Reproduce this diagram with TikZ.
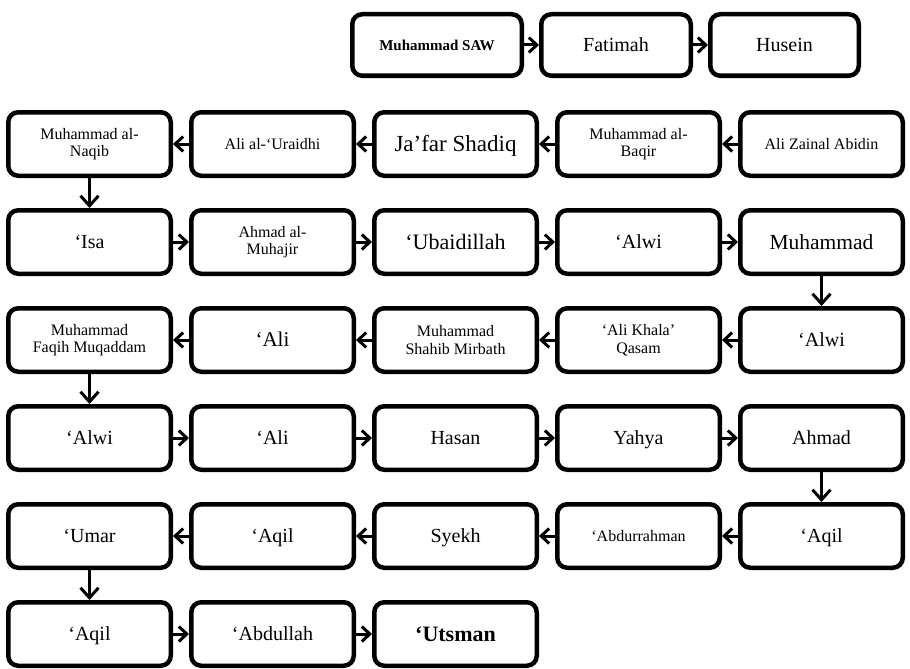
\documentclass[tikz,border=0pt]{standalone}
\usepackage{fontspec}
\setmainfont{Liberation Serif}
\usepackage{tikz}
\usetikzlibrary{arrows.meta, positioning}

\begin{document}
\begin{tikzpicture}[
    node distance=30pt and 16pt,
    person/.style={rectangle, draw, line width=4.5pt, rounded corners=10pt, minimum width=162.5pt, minimum height=63.5pt, align=center, fill=white, text height=15pt, text depth=1.8pt, font=\fontsize{20}{22}\selectfont},
    small/.style={font=\fontsize{16}{17.5}\selectfont, text height=12pt, text depth=1.4pt},
    twolines/.style={font=\fontsize{16}{17.5}\selectfont, text height=, text depth=},
    link/.style={-{Straight Barb[length=8pt,width=15pt]}, line width=3pt},
    down/.style={-{Straight Barb[length=10pt,width=18pt]}, line width=3pt}
]
\useasboundingbox (0pt,0pt) rectangle (910pt,-669pt);

% top line
\node[person, small, minimum width=169.5pt, minimum height=61.5pt, font=\fontsize{15}{17}\selectfont\bfseries] (saw) at (437pt,-45pt) {Muhammad SAW};
\node[person, minimum width=149.5pt, minimum height=61.5pt] (fatimah) at (616pt,-45pt) {Fatimah};
\node[person, minimum width=148.5pt, minimum height=61.5pt] (husein) at (784.5pt,-45pt) {Husein};

% second line, right to left
\node[person, small] (zain) at (821.5pt,-144pt) {Ali Zainal Abidin};
\node[person, twolines, left=of zain] (baqir) {Muhammad al-\\Baqir};
\node[person, left=of baqir, font=\fontsize{23}{25}\selectfont, text height=17pt] (jafar) {Ja'far Shadiq};
\node[person, small, left=of jafar] (uraidhi) {Ali al-`Uraidhi};
\node[person, twolines, left=of uraidhi] (naqib) {Muhammad al-\\Naqib};

% third line, left to right
\node[person, below=of naqib] (isa) {`Isa};
\node[person, twolines, right=of isa] (muhajir) {Ahmad al-\\Muhajir};
\node[person, right=of muhajir, font=\fontsize{22}{24}\selectfont, text height=16pt] (ubaid) {`Ubaidillah};
\node[person, right=of ubaid] (alwiA) {`Alwi};
\node[person, right=of alwiA, font=\fontsize{21.5}{24}\selectfont, text height=16pt] (muhA) {Muhammad};

% fourth line, right to left
\node[person, below=of muhA] (alwiB) {`Alwi};
\node[person, twolines, left=of alwiB] (khala) {`Ali Khala'\\Qasam};
\node[person, twolines, left=of khala] (mirbath) {Muhammad\\Shahib Mirbath};
\node[person, left=of mirbath, font=\fontsize{21}{23}\selectfont] (aliA) {`Ali};
\node[person, twolines, left=of aliA] (faqih) {Muhammad\\Faqih Muqaddam};

% fifth line, left to right
\node[person, below=of faqih] (alwiC) {`Alwi};
\node[person, right=of alwiC] (aliB) {`Ali};
\node[person, right=of aliB] (hasan) {Hasan};
\node[person, right=of hasan] (yahya) {Yahya};
\node[person, right=of yahya] (ahmad) {Ahmad};

% sixth line, right to left
\node[person, below=of ahmad] (aqilA) {`Aqil};
\node[person, small, left=of aqilA] (abdurrahman) {`Abdurrahman};
\node[person, left=of abdurrahman] (syekh) {Syekh};
\node[person, left=of syekh] (aqilB) {`Aqil};
\node[person, left=of aqilB] (umar) {`Umar};

% last line
\node[person, below=of umar] (aqilC) {`Aqil};
\node[person, right=of aqilC] (abdullah) {`Abdullah};
\node[person, right=of abdullah, font=\fontsize{22}{24}\selectfont\bfseries, text height=16pt] (utsman) {`Utsman};

\draw[link] (saw) -- (fatimah);
\draw[link] (fatimah) -- (husein);

\draw[link] (zain) -- (baqir);
\draw[link] (baqir) -- (jafar);
\draw[link] (jafar) -- (uraidhi);
\draw[link] (uraidhi) -- (naqib);
\draw[down] (naqib) -- (isa);

\draw[link] (isa) -- (muhajir);
\draw[link] (muhajir) -- (ubaid);
\draw[link] (ubaid) -- (alwiA);
\draw[link] (alwiA) -- (muhA);
\draw[down] (muhA) -- (alwiB);

\draw[link] (alwiB) -- (khala);
\draw[link] (khala) -- (mirbath);
\draw[link] (mirbath) -- (aliA);
\draw[link] (aliA) -- (faqih);
\draw[down] (faqih) -- (alwiC);

\draw[link] (alwiC) -- (aliB);
\draw[link] (aliB) -- (hasan);
\draw[link] (hasan) -- (yahya);
\draw[link] (yahya) -- (ahmad);
\draw[down] (ahmad) -- (aqilA);

\draw[link] (aqilA) -- (abdurrahman);
\draw[link] (abdurrahman) -- (syekh);
\draw[link] (syekh) -- (aqilB);
\draw[link] (aqilB) -- (umar);
\draw[down] (umar) -- (aqilC);

\draw[link] (aqilC) -- (abdullah);
\draw[link] (abdullah) -- (utsman);

\end{tikzpicture}
\end{document}
